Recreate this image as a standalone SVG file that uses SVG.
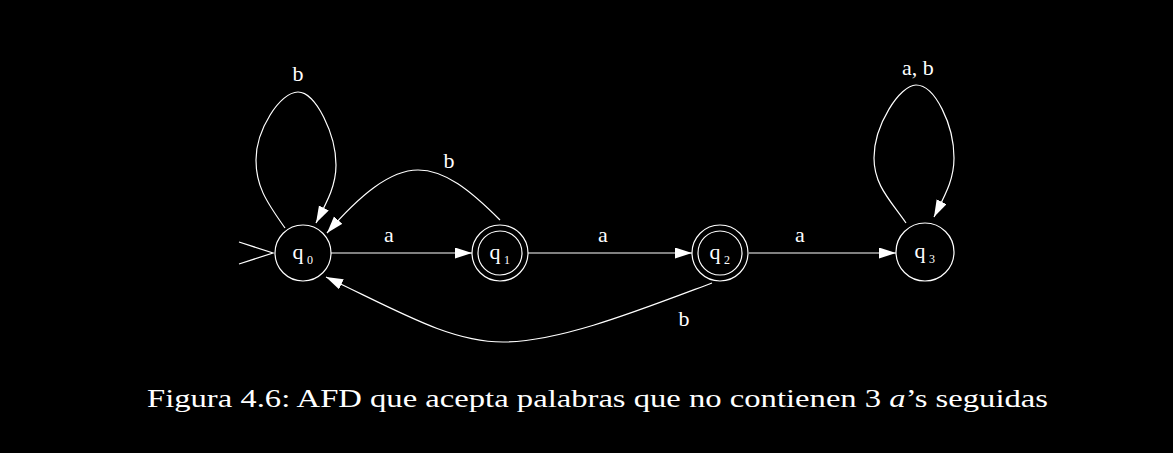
<svg xmlns="http://www.w3.org/2000/svg" width="1173" height="453" viewBox="0 0 1173 453">
<style>
.st{fill:none;stroke:#fff;stroke-width:1.2}
.ed{fill:none;stroke:#fff;stroke-width:1.2;marker-end:url(#ah)}
.lb{font-family:"Liberation Serif",serif;font-size:22px;fill:#fff;text-anchor:middle}
.sb{font-family:"Liberation Serif",serif;font-size:12px;fill:#fff}
.cap{font-family:"Liberation Serif",serif;font-size:25px;fill:#fff}
</style>
<defs>
<marker id="ah" markerUnits="userSpaceOnUse" markerWidth="18" markerHeight="12" refX="17" refY="5.5" orient="auto">
<path d="M0,0 L17,5.5 L0,11 z" fill="#fff"/>
</marker>
</defs>
<rect width="1173" height="453" fill="#000"/>
<g id="connectors">
<path class="st" d="M239,242 L273,253 L239,264"/>
<path class="ed" d="M285,228 C265,200 256,185 256,160 C256,130 280,92 298,92 C316,92 336,135 336,165 C336,185 328,200 316,223"/>
<path class="ed" d="M331,253 L472,253"/>
<path class="ed" d="M528,253 L692,253"/>
<path class="ed" d="M749,253 L896,253"/>
<path class="ed" d="M500,220 C470,190 445,170 418,170 C390,170 360,195 327,233"/>
<path class="ed" d="M712,283 C640,310 560,342 503,342 C450,342 400,312 326,277"/>
<path class="ed" d="M906,223 C890,200 874,185 874,158 C874,125 900,85 916,85 C935,85 954,125 954,158 C954,180 945,195 934,217"/>
<text class="lb" x="298" y="81">b</text>
<text class="lb" x="389" y="242">a</text>
<text class="lb" x="603" y="242">a</text>
<text class="lb" x="800" y="242">a</text>
<text class="lb" x="449" y="168">b</text>
<text class="lb" x="684" y="326">b</text>
<text class="lb" x="918" y="75">a, b</text>
</g>
<g id="q0">
<circle class="st" cx="303" cy="253" r="28"/>
<text class="lb" x="298" y="259">q</text><text class="sb" x="307" y="264">0</text>
</g>
<g id="q1">
<circle class="st" cx="500" cy="253" r="28"/>
<circle class="st" cx="500" cy="253" r="22"/>
<text class="lb" x="495" y="259">q</text><text class="sb" x="504" y="264">1</text>
</g>
<g id="q2">
<circle class="st" cx="720" cy="253" r="28"/>
<circle class="st" cx="720" cy="253" r="22"/>
<text class="lb" x="715" y="259">q</text><text class="sb" x="724" y="264">2</text>
</g>
<g id="q3">
<circle class="st" cx="925" cy="252" r="29"/>
<text class="lb" x="920" y="258">q</text><text class="sb" x="929" y="263">3</text>
</g>
<text class="cap" x="147" y="407" textLength="901" lengthAdjust="spacingAndGlyphs">Figura 4.6: AFD que acepta palabras que no contienen 3 <tspan font-style="italic">a</tspan>’s seguidas</text>
</svg>
